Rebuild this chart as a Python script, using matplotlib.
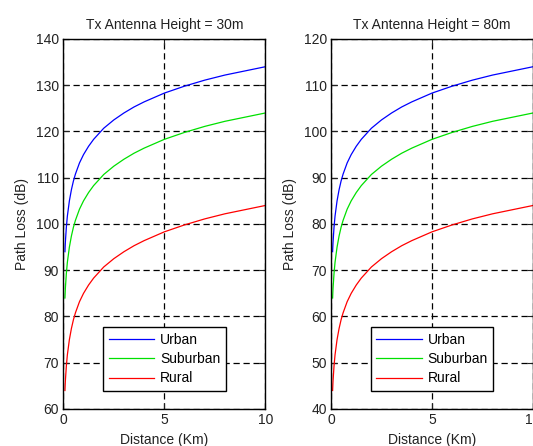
import matplotlib
matplotlib.use('Agg')
import matplotlib.pyplot as plt

plt.rcParams['font.family'] = ['Liberation Sans', 'DejaVu Sans']
plt.rcParams['font.size'] = 10

# distance from the base station (km)
distance = [0.08, 0.1, 0.15, 0.2, 0.3, 0.4, 0.5, 0.6, 0.8, 1.0, 1.25, 1.5,
            2, 2.5, 3, 3.5, 4, 5, 6, 7, 8, 9, 10]

# path loss (dB), Tx antenna at 30 m
urban_30 = [94, 96, 99.3, 101.7, 105, 107.4, 109.3, 110.8, 113.2, 115, 116.8, 118.3,
            120.7, 122.5, 124, 125.3, 126.4, 128.3, 129.8, 131.1, 132.2, 133.1, 134]
suburban_30 = [84, 86, 89.3, 91.7, 95, 97.4, 99.3, 100.8, 103.2, 105, 106.8, 108.3,
               110.7, 112.5, 114, 115.3, 116.4, 118.3, 119.8, 121.1, 122.2, 123.1, 124]
rural_30 = [64, 66, 69.3, 71.7, 75, 77.4, 79.3, 80.8, 83.2, 85, 86.8, 88.3,
            90.7, 92.5, 94, 95.3, 96.4, 98.3, 99.8, 101.1, 102.2, 103.1, 104]

# path loss (dB), Tx antenna at 80 m
urban_80 = [74, 76, 79.3, 81.7, 85, 87.4, 89.3, 90.8, 93.2, 95, 96.8, 98.3,
            100.7, 102.5, 104, 105.3, 106.4, 108.3, 109.8, 111.1, 112.2, 113.1, 114]
suburban_80 = [64, 66, 69.3, 71.7, 75, 77.4, 79.3, 80.8, 83.2, 85, 86.8, 88.3,
               90.7, 92.5, 94, 95.3, 96.4, 98.3, 99.8, 101.1, 102.2, 103.1, 104]
rural_80 = [44, 46, 49.3, 51.7, 55, 57.4, 59.3, 60.8, 63.2, 65, 66.8, 68.3,
            70.7, 72.5, 74, 75.3, 76.4, 78.3, 79.8, 81.1, 82.2, 83.1, 84]

labels = ['Urban', 'Suburban', 'Rural']
colors = ['#0000ff', '#00e000', '#ff0000']

panels = [
    ('Tx Antenna Height = 30m', [urban_30, suburban_30, rural_30], (60, 140)),
    ('Tx Antenna Height = 80m', [urban_80, suburban_80, rural_80], (40, 120)),
]

fig = plt.figure(figsize=(5.33, 4.46), dpi=100)
lefts = [0.1188, 0.621]

for left, (title, series, ylim) in zip(lefts, panels):
    ax = fig.add_axes([left, 0.083, 0.379, 0.8296])
    for values, label, color in zip(series, labels, colors):
        ax.plot(distance, values, color=color, linewidth=0.9, label=label)
    ax.set_xlim(0, 10)
    ax.set_ylim(*ylim)
    ax.set_xticks([0, 5, 10])
    ax.set_yticks(range(ylim[0], ylim[1] + 1, 10))
    ax.grid(True, color='black', linestyle=(0, (5, 3)), linewidth=0.9)
    ax.tick_params(direction='in', top=True, right=True, length=4, pad=3,
                   colors='#222222')
    for spine in ax.spines.values():
        spine.set_linewidth(1.0)
    ax.set_title(title, fontsize=10, pad=7, color='#222222')
    ax.set_xlabel('Distance (Km)', labelpad=4, color='#222222')
    ax.set_ylabel('Path Loss (dB)', labelpad=5, color='#222222')
    leg = ax.legend(loc='lower center', bbox_to_anchor=(0.5, 0.03),
                    fancybox=False, framealpha=1, edgecolor='black',
                    handlelength=3.3, handletextpad=0.4, borderpad=0.4,
                    labelspacing=0.38)
    leg.get_frame().set_linewidth(1.0)

fig.savefig('out.png', dpi=100)
